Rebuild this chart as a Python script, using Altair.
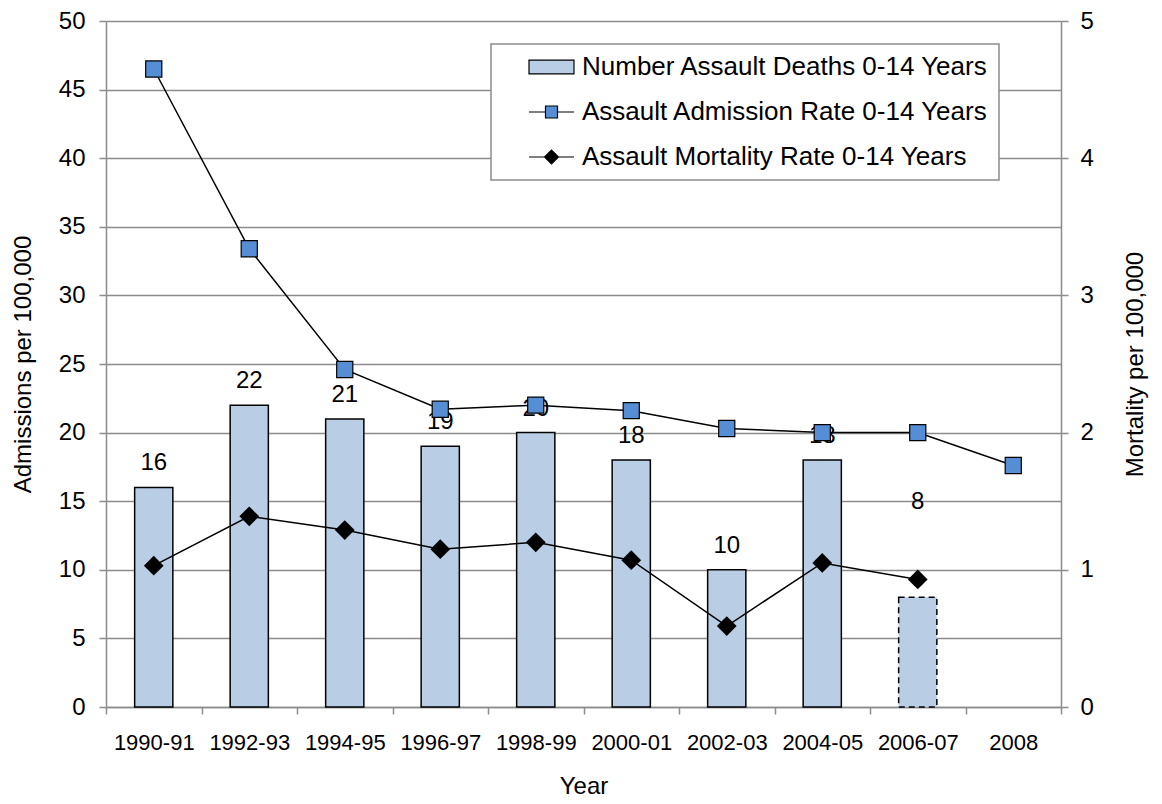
import altair as alt
import pandas as pd

# ---------------- data ----------------
years = ["1990-91", "1992-93", "1994-95", "1996-97", "1998-99",
         "2000-01", "2002-03", "2004-05", "2006-07", "2008"]
deaths = [16, 22, 21, 19, 20, 18, 10, 18, 8]
admission = [46.5, 33.4, 24.6, 21.7, 22.0, 21.6, 20.3, 20.0, 20.0, 17.6]
mortality = [1.03, 1.39, 1.29, 1.15, 1.20, 1.07, 0.59, 1.05, 0.93]
left_ticks = [0, 5, 10, 15, 20, 25, 30, 35, 40, 45, 50]
right_ticks = [0, 1, 2, 3, 4, 5]
series_names = ["Number Assault Deaths 0-14 Years",
                "Assault Admission Rate 0-14 Years",
                "Assault Mortality Rate 0-14 Years"]
series_fills = ["#b9cde5", "#558ed5", "#000000"]
series_strokes = ["#000000", "#000000", "#000000"]
legend_paths = [
    "M-1,-0.58H2.75V0.58H-1Z",
    "M-1,0H0.375M1.375,0H2.75M0.375,-0.5H1.375V0.5H0.375Z",
    "M-1,0H0.295M1.455,0H2.75M0.295,0L0.875,-0.58L1.455,0L0.875,0.58Z",
]

FONT = "Liberation Sans"
GRID = "#8c8c8c"

bars_df = pd.DataFrame({"Year": years[:len(deaths)], "Deaths": deaths})
adm_df = pd.DataFrame({"Year": years, "Admission": admission})
mort_df = pd.DataFrame({"Year": years[:len(mortality)], "Mortality": mortality})
legend_df = pd.DataFrame({"Series": series_names})

# ---------------- encodings ----------------
x_enc = alt.X(
    "Year:N", sort=years,
    scale=alt.Scale(domain=years, paddingInner=0, paddingOuter=0),
    axis=alt.Axis(title="Year", labelAngle=0, tickBand="extent",
                  domainColor=GRID, domainWidth=1.5, tickColor=GRID,
                  tickWidth=1.5, tickSize=7, labelFontSize=22,
                  labelFont=FONT, labelColor="black", labelPadding=18,
                  titleFontSize=24, titleFont=FONT, titleFontWeight="normal",
                  titleColor="black", titlePadding=21, grid=False),
)

axL = alt.Axis(title="Admissions per 100,000", orient="left", values=left_ticks,
               grid=True, gridColor=GRID, gridWidth=1.3, domainColor=GRID,
               domainWidth=1.5, tickColor=GRID, tickWidth=1.5, tickSize=7,
               labelFontSize=24, labelPadding=14, labelFont=FONT,
               labelColor="black", titleFontSize=24, titleFont=FONT,
               titleFontWeight="normal", titleColor="black", titlePadding=23)
scL = alt.Scale(domain=[0, 50], nice=False)

axR = alt.Axis(title="Mortality per 100,000", orient="right", values=right_ticks,
               grid=False, domainColor=GRID, domainWidth=1.5, tickColor=GRID,
               tickWidth=1.5, tickSize=7, labelFontSize=24, labelPadding=12,
               labelFont=FONT, labelColor="black", titleFontSize=24,
               titleFont=FONT, titleFontWeight="normal", titleColor="black",
               titleAngle=270, titleBaseline="top", titlePadding=30)
scR = alt.Scale(domain=[0, 5], nice=False)

# ---------------- layers ----------------
bars = alt.Chart(bars_df).mark_bar(
    width=alt.RelativeBandSize(0.4), color="#b9cde5", stroke="black",
    strokeWidth=1.5
).encode(
    x=x_enc,
    y=alt.Y("Deaths:Q", scale=scL, axis=axL),
    strokeDash=alt.condition(alt.datum.Year == "2006-07",
                             alt.value([6, 4]), alt.value([1, 0])),
)

labels = alt.Chart(bars_df).transform_filter(
    alt.datum.Year != "2006-07"
).mark_text(
    baseline="alphabetic", dy=-17, fontSize=24, font=FONT, color="black"
).encode(
    x=x_enc,
    y=alt.Y("Deaths:Q", scale=scL, axis=axL),
    text=alt.Text("Deaths:Q"),
)

label_raised = alt.Chart(bars_df).transform_filter(
    alt.datum.Year == "2006-07"
).mark_text(
    baseline="alphabetic", dy=-88, fontSize=24, font=FONT, color="black"
).encode(
    x=x_enc,
    y=alt.Y("Deaths:Q", scale=scL, axis=axL),
    text=alt.Text("Deaths:Q"),
)

adm_line = alt.Chart(adm_df).mark_line(color="black", strokeWidth=1.5).encode(
    x=x_enc, y=alt.Y("Admission:Q", scale=scL, axis=axL)
)
adm_pts = alt.Chart(adm_df).mark_point(
    shape="square", filled=True, size=260, fill="#558ed5", stroke="black",
    strokeWidth=1.2, opacity=1
).encode(x=x_enc, y=alt.Y("Admission:Q", scale=scL, axis=axL))

mort_line = alt.Chart(mort_df).mark_line(color="black", strokeWidth=1.5).encode(
    x=x_enc, y=alt.Y("Mortality:Q", scale=scR, axis=axR)
)
mort_pts = alt.Chart(mort_df).mark_point(
    shape="diamond", filled=True, size=390, fill="black", opacity=1
).encode(x=x_enc, y=alt.Y("Mortality:Q", scale=scR, axis=axR))

leg = alt.Legend(title=None, orient="none", legendX=385, legendY=23,
                 padding=10, symbolSize=576, symbolOffset=27, labelOffset=28,
                 labelFontSize=26, labelFont=FONT, labelColor="black",
                 labelLimit=800, rowPadding=19, strokeColor=GRID,
                 fillColor="white", symbolStrokeWidth=1.2, symbolOpacity=1)

legend_layer = alt.Chart(legend_df).mark_point(
    filled=True, opacity=0, strokeWidth=1.2
).encode(
    fill=alt.Fill("Series:N", scale=alt.Scale(domain=series_names, range=series_fills),
                  legend=leg),
    stroke=alt.Stroke("Series:N", scale=alt.Scale(domain=series_names, range=series_strokes),
                      legend=leg),
    shape=alt.Shape("Series:N", scale=alt.Scale(domain=series_names, range=legend_paths),
                    legend=leg),
)

left = alt.layer(bars, labels, label_raised, adm_line, adm_pts)
right = alt.layer(mort_line, mort_pts)

chart = alt.layer(left, right, legend_layer).resolve_scale(
    y="independent"
).properties(
    width=955, height=686,
    padding={"left": 98, "top": 13, "right": 90, "bottom": 92},
    autosize=alt.AutoSizeParams(type="none"),
    background="white",
).configure_view(stroke=None).configure_legend(strokeWidth=1.5)

chart.save("out.html", embed_options={"renderer": "svg", "actions": False})
